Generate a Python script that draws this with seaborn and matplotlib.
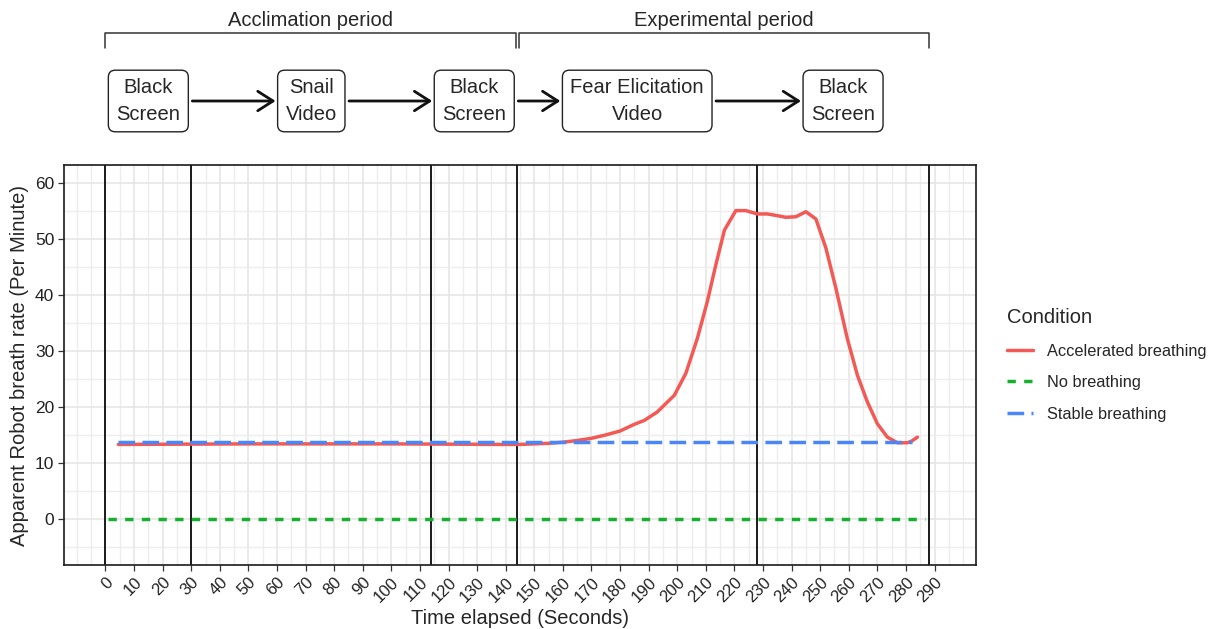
import matplotlib
matplotlib.use("Agg")
import matplotlib.pyplot as plt
import matplotlib.transforms as mtransforms
from matplotlib.lines import Line2D
from matplotlib.patches import FancyArrowPatch
from matplotlib.ticker import FixedLocator, MultipleLocator
import numpy as np
import pandas as pd
import seaborn as sns

# ---------------- data ----------------
accel_t = [4.5, 50, 100, 140, 145, 150, 155, 160, 165, 170, 175, 180, 185, 188.5,
           193, 199, 203, 207, 210.5, 213.5, 216.5, 220.5, 224, 228, 231.5, 235,
           238, 241.5, 245, 248.5, 252, 255.5, 259.5, 263, 266.5, 270, 273.5, 277,
           280.5, 282, 284]
accel_y = [13.3, 13.4, 13.4, 13.3, 13.3, 13.4, 13.5, 13.7, 14.0, 14.4, 15.0, 15.7,
           16.9, 17.6, 19.1, 22.1, 26.0, 32.2, 38.8, 45.4, 51.6, 55.1, 55.1, 54.5,
           54.5, 54.2, 53.9, 54.0, 54.9, 53.6, 48.4, 41.2, 32.2, 25.7, 20.9, 17.0,
           14.6, 13.6, 13.6, 13.9, 14.6]
none_t = [1, 286.5]
none_y = [0, 0]
stable_t = [4.5, 282]
stable_y = [13.8, 13.8]

conditions = ["Accelerated breathing", "No breathing", "Stable breathing"]
phase_bounds = [0, 30, 114, 144, 228, 288]
stage_labels = ["Black\nScreen", "Snail\nVideo", "Black\nScreen",
                "Fear Elicitation\nVideo", "Black\nScreen"]
period_labels = ["Acclimation period", "Experimental period"]
period_bounds = [(0, 143.6), (144.6, 288)]
x_ticks = list(range(0, 300, 10))
y_ticks = list(range(0, 70, 10))

df = pd.concat([
    pd.DataFrame({"t": accel_t, "rate": accel_y, "Condition": conditions[0]}),
    pd.DataFrame({"t": none_t, "rate": none_y, "Condition": conditions[1]}),
    pd.DataFrame({"t": stable_t, "rate": stable_y, "Condition": conditions[2]}),
])

# ---------------- style ----------------
sns.set_theme(style="white")
plt.rcParams["font.family"] = ["Liberation Sans", "DejaVu Sans"]

W, H = 1214, 629
fig = plt.figure(figsize=(W / 100, H / 100), dpi=100)
ax = fig.add_axes([64 / W, (H - 565) / H, (976 - 64) / W, (565 - 165) / H])

palette = {conditions[0]: "#F35A55", conditions[1]: "#14B02E", conditions[2]: "#4A86F7"}
lw = 2.5
dashes = {conditions[0]: "", conditions[1]: (2.4, 2.4), conditions[2]: (4.8, 2.1)}

ax.set_axisbelow(True)
ax.xaxis.set_major_locator(FixedLocator(x_ticks))
ax.xaxis.set_minor_locator(MultipleLocator(5))
ax.yaxis.set_major_locator(FixedLocator(y_ticks))
ax.yaxis.set_minor_locator(MultipleLocator(5))
ax.grid(which="major", color="#E6E6E6", lw=1.2)
ax.grid(which="minor", color="#EDEDED", lw=1.0)

for b in phase_bounds:
    ax.axvline(b, color="#1a1a1a", lw=1.4, zorder=1.5)

sns.lineplot(data=df, x="t", y="rate", hue="Condition", style="Condition",
             palette=palette, dashes=dashes, hue_order=conditions,
             style_order=conditions, estimator=None, sort=True, lw=lw, ax=ax,
             zorder=3)

ax.set_xlim(-14.5, 304.5)
ax.set_ylim(-8.25, 63.25)
ax.set_xticklabels([str(v) for v in x_ticks], rotation=45, ha="right",
                   rotation_mode="anchor", fontsize=12, color="#222222")
ax.tick_params(axis="y", labelsize=12.5, labelcolor="#222222")
ax.tick_params(which="major", length=4, width=0.9, color="#333333", direction="out",
               bottom=True, left=True, pad=3)
ax.tick_params(which="minor", length=0, bottom=False, left=False)
for s in ax.spines.values():
    s.set_color("#1a1a1a")
    s.set_linewidth(1.2)

ax.set_xlabel("Time elapsed (Seconds)", fontsize=14.5, labelpad=3)
ax.set_ylabel("Apparent Robot breath rate (Per Minute)", fontsize=14.5, labelpad=4)

sns.move_legend(ax, "center left", bbox_to_anchor=(1007 / W, 1 - 365 / H),
                bbox_transform=fig.transFigure, frameon=False, title="Condition",
                alignment="left", fontsize=11.8, title_fontsize=14.5,
                handlelength=1.6, handletextpad=0.85, labelspacing=1.0,
                borderpad=0, borderaxespad=0)

# ---------------- top annotation ----------------
trans = mtransforms.blended_transform_factory(ax.transData, fig.transFigure)

def fy(px):
    return 1 - px / H

for (a, b), lab in zip(period_bounds, period_labels):
    fig.add_artist(Line2D([a, a, b, b], [fy(48), fy(33), fy(33), fy(48)],
                          transform=trans, color="#333333", lw=1.1))
    fig.text((a + b) / 2, fy(21), lab, transform=trans, ha="center",
             va="center", fontsize=14.5)

boxes = []
for i, lab in enumerate(stage_labels):
    cx = (phase_bounds[i] + phase_bounds[i + 1]) / 2
    t = fig.text(cx, fy(101), lab, transform=trans, ha="center", va="center",
                 fontsize=14.5, linespacing=1.5, multialignment="center",
                 bbox=dict(boxstyle="round,pad=0.4,rounding_size=0.35",
                           fc="white", ec="#222222", lw=1.0))
    boxes.append(t)

fig.canvas.draw()
r = fig.canvas.get_renderer()
inv = fig.transFigure.inverted()
for i in range(len(boxes) - 1):
    e1 = boxes[i].get_bbox_patch().get_window_extent(r)
    e2 = boxes[i + 1].get_bbox_patch().get_window_extent(r)
    y = (e1.y0 + e1.y1) / 2
    p1 = inv.transform((e1.x1 + 4, y))
    p2 = inv.transform((e2.x0 - 2, y))
    fig.add_artist(FancyArrowPatch(p1, p2, transform=fig.transFigure,
                                   arrowstyle="->,head_length=0.55,head_width=0.35",
                                   mutation_scale=20, lw=2.0, color="#111111",
                                   shrinkA=0, shrinkB=0))

fig.savefig("out.png", dpi=100)
